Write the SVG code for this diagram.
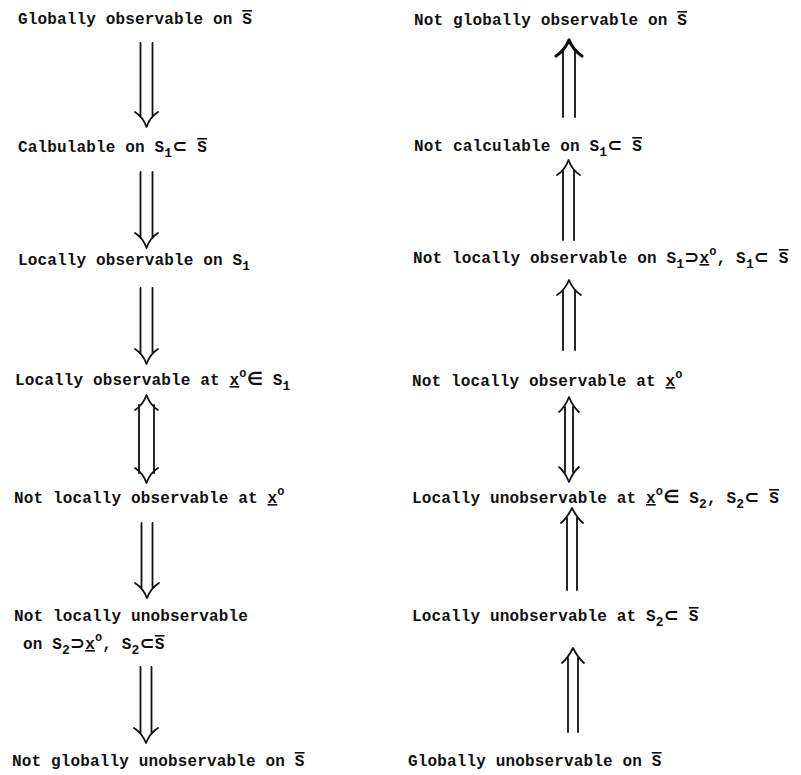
<svg xmlns="http://www.w3.org/2000/svg" width="801" height="775" viewBox="0 0 801 775">
<style>
text{font-family:"Liberation Mono","Courier New",monospace;font-size:16px;font-weight:bold;letter-spacing:0.15px;fill:#111}
.sub{font-size:13px}
.sup{font-size:12px}
.sym{font-family:"DejaVu Sans",sans-serif;font-weight:bold;font-size:18px}
.ov{text-decoration:overline}
.ul{text-decoration:underline}
.ar{fill:none;stroke:#111;stroke-width:1.8;stroke-linecap:round;stroke-linejoin:round}
.hv{stroke-width:3.2}
</style>
<rect width="801" height="775" fill="#fff"/>
<g id="left">
<g id="n-l1"><text x="18" y="24">Globally observable on <tspan class="ov">S</tspan></text></g>
<g id="n-l2"><text x="18" y="152">Calbulable on S<tspan class="sub" dy="5">1</tspan><tspan class="sym" dy="-5">⊂</tspan> <tspan class="ov">S</tspan></text></g>
<g id="n-l3"><text x="18" y="265">Locally observable on S<tspan class="sub" dy="5">1</tspan></text></g>
<g id="n-l4"><text x="15" y="385">Locally observable at <tspan class="ul">x</tspan><tspan class="sup" dy="-8">o</tspan><tspan class="sym" dy="8">∈</tspan> S<tspan class="sub" dy="5">1</tspan></text></g>
<g id="n-l5"><text x="14" y="503">Not locally observable at <tspan class="ul">x</tspan><tspan class="sup" dy="-8">o</tspan></text></g>
<g id="n-l6"><text x="14" y="621">Not locally unobservable</text><text x="23" y="649">on S<tspan class="sub" dy="5">2</tspan><tspan class="sym" dy="-5">⊃</tspan><tspan class="ul">x</tspan><tspan class="sup" dy="-8">o</tspan><tspan dy="8">,  S</tspan><tspan class="sub" dy="5">2</tspan><tspan class="sym" dy="-5">⊂</tspan><tspan class="ov">S</tspan></text></g>
<g id="n-l7"><text x="12" y="766">Not globally unobservable on <tspan class="ov">S</tspan></text></g>
</g>
<g id="right">
<g id="n-r1"><text x="414" y="25">Not globally observable on <tspan class="ov">S</tspan></text></g>
<g id="n-r2"><text x="414" y="151">Not calculable on S<tspan class="sub" dy="5">1</tspan><tspan class="sym" dy="-5">⊂</tspan> <tspan class="ov">S</tspan></text></g>
<g id="n-r3"><text x="413" y="263">Not locally observable on S<tspan class="sub" dy="5">1</tspan><tspan class="sym" dy="-5">⊃</tspan><tspan class="ul">x</tspan><tspan class="sup" dy="-8">o</tspan><tspan dy="8">,  S</tspan><tspan class="sub" dy="5">1</tspan><tspan class="sym" dy="-5">⊂</tspan> <tspan class="ov">S</tspan></text></g>
<g id="n-r4"><text x="412" y="386">Not locally observable at <tspan class="ul">x</tspan><tspan class="sup" dy="-8">o</tspan></text></g>
<g id="n-r5"><text x="412" y="503">Locally unobservable at <tspan class="ul">x</tspan><tspan class="sup" dy="-8">o</tspan><tspan class="sym" dy="8">∈</tspan> S<tspan class="sub" dy="5">2</tspan><tspan dy="-5">,  S</tspan><tspan class="sub" dy="5">2</tspan><tspan class="sym" dy="-5">⊂</tspan> <tspan class="ov">S</tspan></text></g>
<g id="n-r6"><text x="412" y="621">Locally unobservable at S<tspan class="sub" dy="5">2</tspan><tspan class="sym" dy="-5">⊂</tspan> <tspan class="ov">S</tspan></text></g>
<g id="n-r7"><text x="408" y="766">Globally unobservable on <tspan class="ov">S</tspan></text></g>
</g>
<g id="connectors">
<path class="ar" d="M140.5,43V117M152.5,43V117M135,112Q143,117 146.5,127Q150,117 158,112"/>
<path class="ar" d="M140.5,172V238M152.5,172V238M135,233Q143,238 146.5,248Q150,238 158,233"/>
<path class="ar" d="M140.5,288V354M152.5,288V354M135,349Q143,354 146.5,364Q150,354 158,349"/>
<path class="ar" d="M139,405V473M154,405V473M135,410Q143,405 146.5,395Q150,405 158,410M135,468Q143,473 146.5,483Q150,473 158,468"/>
<path class="ar" d="M141.5,523V588M152.5,523V588M135,583Q143,588 147,598Q151,588 159,583"/>
<path class="ar" d="M140.5,667V733M151.5,667V733M134,728Q142,733 146,743Q150,733 158,728"/>
<path class="ar" d="M563,50V117M575,50V117"/>
<path class="ar hv" d="M556,56Q565,50 569,40Q573,50 582,56"/>
<path class="ar" d="M563,170V240M574,170V240M557,175Q565,170 568.5,160Q572,170 580,175"/>
<path class="ar" d="M563,290V350M575,290V350M557,295Q565,290 569,280Q573,290 581,295"/>
<path class="ar" d="M565,407V472M573,407V472M559,412Q565,407 569,397Q573,407 579,412M559,467Q565,472 569,482Q573,472 579,467"/>
<path class="ar" d="M567,518V590M577,518V590M561,523Q567,518 572,508Q577,518 583,523"/>
<path class="ar" d="M568,658V732M578,658V732M562,663Q568,658 573,648Q578,658 584,663"/>
</g>
</svg>
